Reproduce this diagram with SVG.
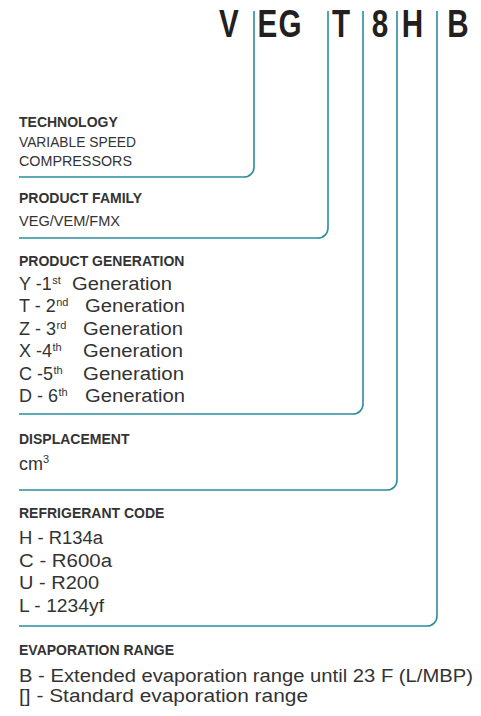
<svg xmlns="http://www.w3.org/2000/svg" width="481" height="716" viewBox="0 0 481 716">
<style>
.code{font-family:"Liberation Sans",Arial,sans-serif;font-weight:bold;font-size:39px;fill:#231f20;text-anchor:middle}
.h{font-family:"Liberation Sans",Arial,sans-serif;font-weight:bold;font-size:14px;fill:#333}
.s{font-family:"Liberation Sans",Arial,sans-serif;font-size:14px;fill:#333}
.b{font-family:"Liberation Sans",Arial,sans-serif;font-size:18px;fill:#333}
.sup{font-size:11px}
.ln{fill:none;stroke:#2b8d9b;stroke-width:1.6}
</style>
<rect width="481" height="716" fill="#fff"/>
<g id="code">
<text class="code" transform="translate(229,37) scale(0.76,1)">V</text>
<text class="code" transform="translate(267.5,37) scale(0.76,1)">E</text>
<text class="code" transform="translate(290,37) scale(0.76,1)">G</text>
<text class="code" transform="translate(341,37) scale(0.76,1)">T</text>
<text class="code" transform="translate(380,37) scale(0.76,1)">8</text>
<text class="code" transform="translate(412.5,37) scale(0.76,1)">H</text>
<text class="code" transform="translate(458,37) scale(0.76,1)">B</text>
</g>
<g id="connectors">
<path class="ln" d="M254 11 V167 A10 10 0 0 1 244 177 H19"/>
<path class="ln" d="M328 11 V228 A10 10 0 0 1 318 238 H19"/>
<path class="ln" d="M363 11 V404 A10 10 0 0 1 353 414 H19"/>
<path class="ln" d="M397 11 V480 A10 10 0 0 1 387 490 H19"/>
<path class="ln" d="M437 11 V616 A10 10 0 0 1 427 626 H19"/>
</g>
<g id="technology">
<text class="h" x="19" y="127">TECHNOLOGY</text>
<text class="s" x="19" y="146.5" textLength="117" lengthAdjust="spacingAndGlyphs">VARIABLE SPEED</text>
<text class="s" x="19" y="165.5" textLength="113" lengthAdjust="spacingAndGlyphs">COMPRESSORS</text>
</g>
<g id="family">
<text class="h" x="19" y="202.5">PRODUCT FAMILY</text>
<text class="s" x="19" y="226" textLength="101" lengthAdjust="spacingAndGlyphs">VEG/VEM/FMX</text>
</g>
<g id="generation">
<text class="h" x="19" y="266">PRODUCT GENERATION</text>
<text class="b" x="19" y="289.5">Y -1<tspan class="sup" dx="0.5" dy="-6">st</tspan></text>
<text class="b" x="72" y="289.5" textLength="100" lengthAdjust="spacingAndGlyphs">Generation</text>
<text class="b" x="19" y="312">T - 2<tspan class="sup" dx="0.5" dy="-6">nd</tspan></text>
<text class="b" x="85" y="312" textLength="100" lengthAdjust="spacingAndGlyphs">Generation</text>
<text class="b" x="19" y="334.5">Z - 3<tspan class="sup" dx="0.5" dy="-6">rd</tspan></text>
<text class="b" x="83" y="334.5" textLength="100" lengthAdjust="spacingAndGlyphs">Generation</text>
<text class="b" x="19" y="357">X -4<tspan class="sup" dx="0.5" dy="-6">th</tspan></text>
<text class="b" x="83" y="357" textLength="100" lengthAdjust="spacingAndGlyphs">Generation</text>
<text class="b" x="19" y="379.5">C -5<tspan class="sup" dx="0.5" dy="-6">th</tspan></text>
<text class="b" x="83" y="379.5" textLength="101" lengthAdjust="spacingAndGlyphs">Generation</text>
<text class="b" x="19" y="401.5">D - 6<tspan class="sup" dx="0.5" dy="-6">th</tspan></text>
<text class="b" x="85" y="401.5" textLength="100" lengthAdjust="spacingAndGlyphs">Generation</text>
</g>
<g id="displacement">
<text class="h" x="19" y="444">DISPLACEMENT</text>
<text class="b" x="19" y="469.5">cm<tspan class="sup" dy="-7">3</tspan></text>
</g>
<g id="refrigerant">
<text class="h" x="19" y="518">REFRIGERANT CODE</text>
<text class="b" x="19" y="544" textLength="84" lengthAdjust="spacingAndGlyphs">H - R134a</text>
<text class="b" x="19" y="566.5" textLength="93" lengthAdjust="spacingAndGlyphs">C - R600a</text>
<text class="b" x="19" y="589" textLength="80" lengthAdjust="spacingAndGlyphs">U - R200</text>
<text class="b" x="19" y="611.5" textLength="85" lengthAdjust="spacingAndGlyphs">L - 1234yf</text>
</g>
<g id="evaporation">
<text class="h" x="19" y="655">EVAPORATION RANGE</text>
<text class="b" x="19" y="681.5" textLength="454" lengthAdjust="spacingAndGlyphs">B - Extended evaporation range until 23 F (L/MBP)</text>
<text class="b" x="19" y="701.5" textLength="289" lengthAdjust="spacingAndGlyphs">[] - Standard evaporation range</text>
</g>
</svg>
